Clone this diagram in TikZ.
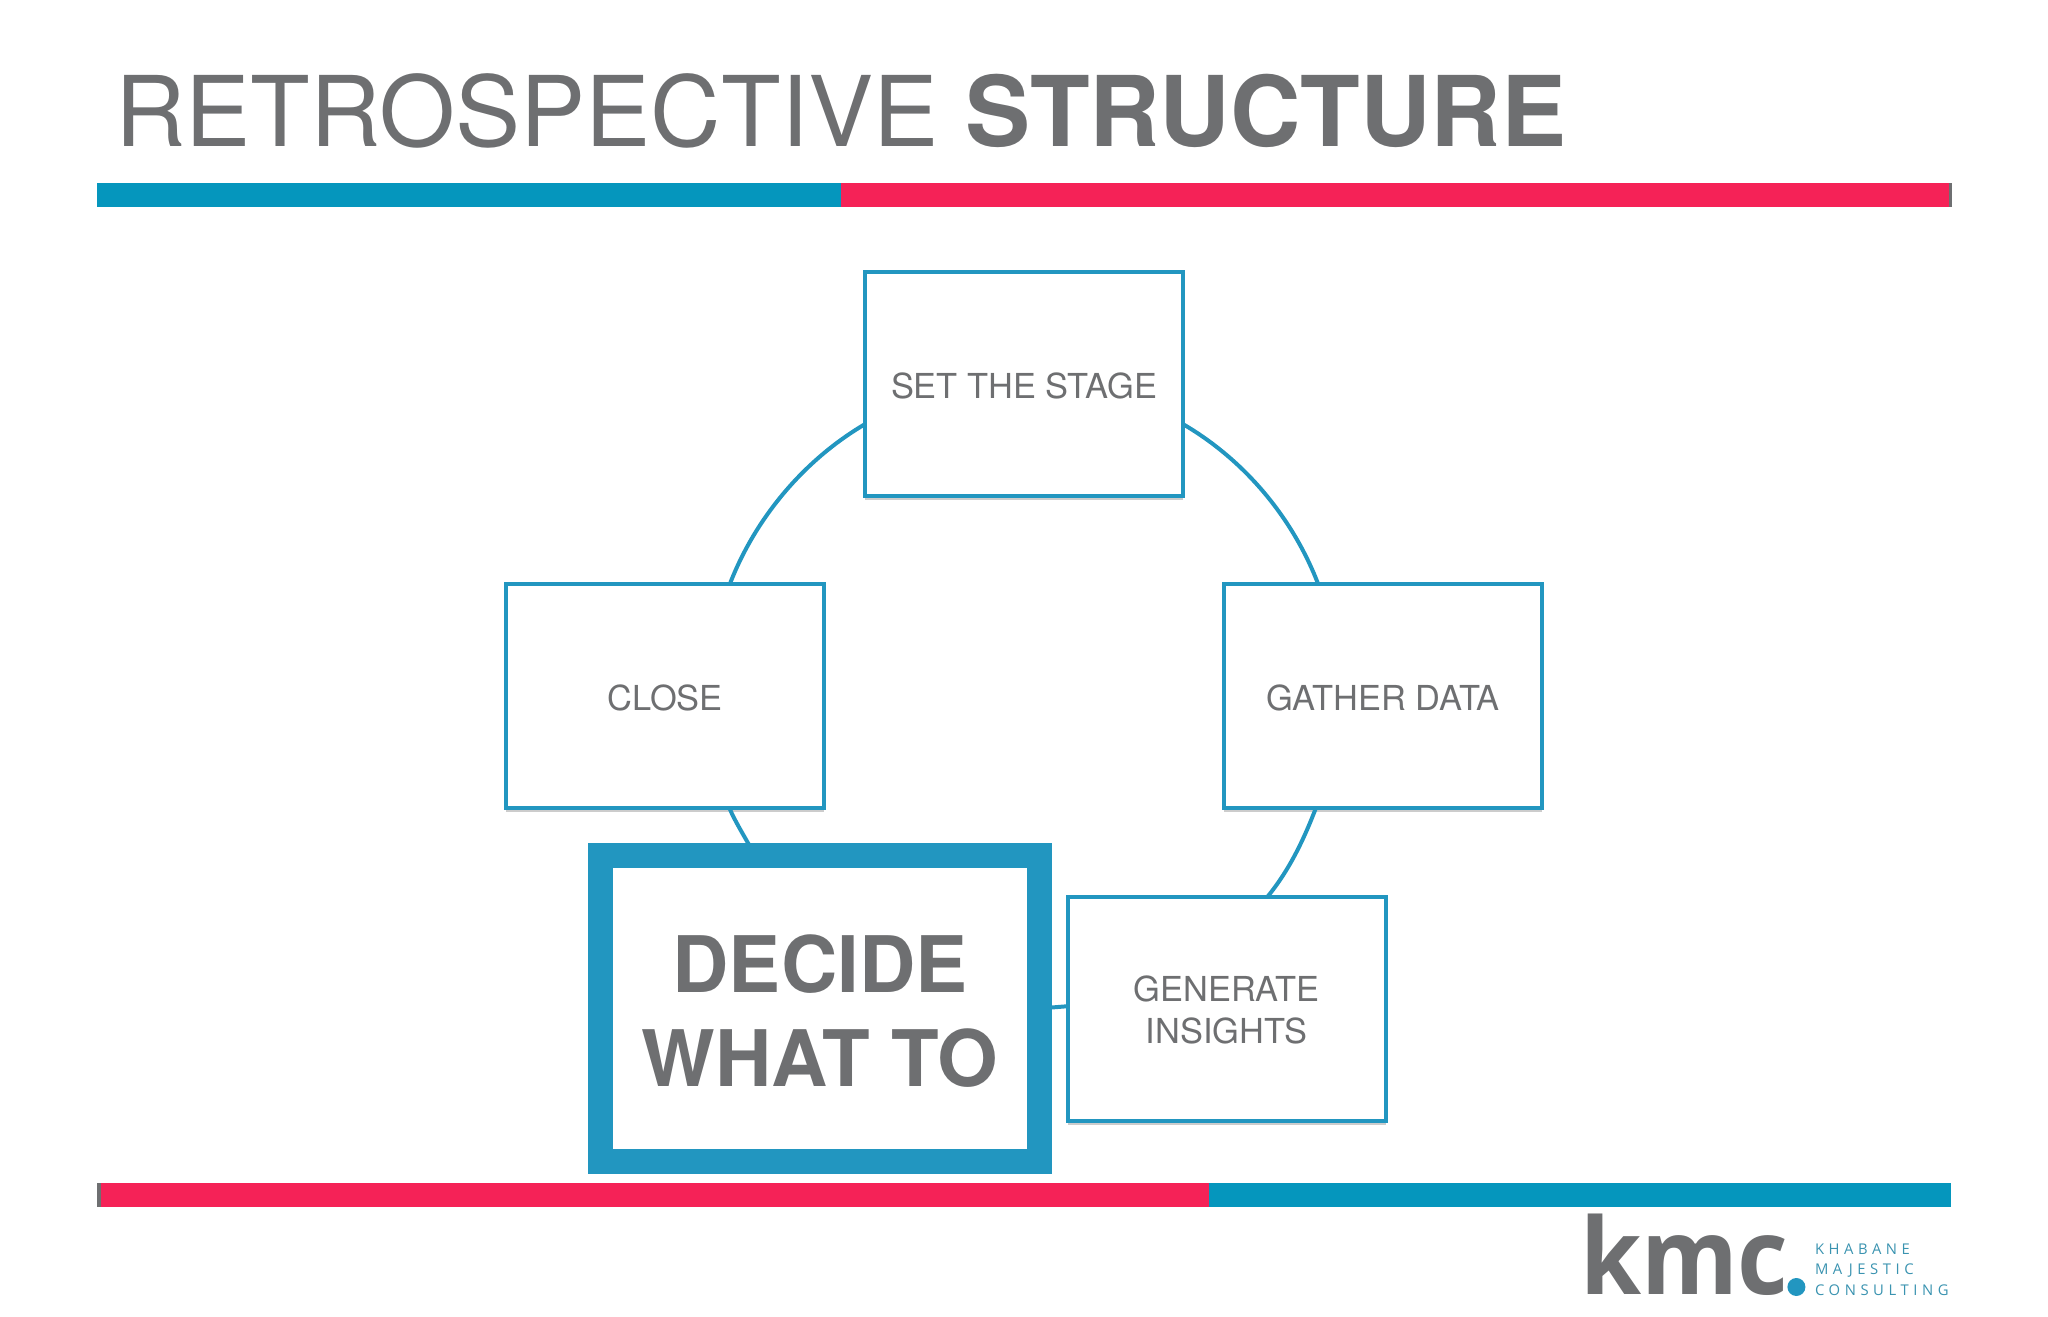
\documentclass[tikz,border=0pt]{standalone}
\usepackage{fontspec}
\usetikzlibrary{shadows}
\setmainfont{TeX Gyre Heros}
\newfontfamily\logofont{Open Sans}
\newfontfamily\logosmall{Open Sans}[LetterSpace=31]
\definecolor{barblue}{HTML}{0596BD}
\definecolor{barred}{HTML}{F52257}
\definecolor{boxblue}{HTML}{2296C0}
\definecolor{inkgrey}{HTML}{6E6F71}
\definecolor{logoteal}{HTML}{3A93B0}
\newcommand{\lowertext}[1]{\rule{0pt}{#1}}
\tikzset{
  stepbox/.style={draw=boxblue,line width=2pt,fill=white,minimum width=159pt,minimum height=112pt,
    inner sep=0pt,outer sep=0pt,align=center,text=inkgrey,
    font=\fontsize{17.2}{20.8}\selectfont,
    general shadow={fill=black,opacity=.2,shadow xshift=0pt,shadow yshift=-2pt}},
  bigbox/.style={draw=boxblue,line width=12.5pt,fill=white,minimum width=219.5pt,minimum height=153pt,
    inner sep=0pt,outer sep=0pt,align=center,text=inkgrey,
    font=\fontsize{39}{46.8}\selectfont\bfseries},
  conn/.style={draw=boxblue,line width=2pt},
  logosm/.style={anchor=base west,inner sep=0pt,outer sep=0pt,text=logoteal,
    font=\logosmall\fontsize{7.4}{8}\selectfont}
}
\begin{document}
\begin{tikzpicture}[x=0.5pt,y=0.5pt]
\useasboundingbox (0,0) rectangle (2048,1316);
% title
\node[anchor=base west,inner sep=0pt,text=inkgrey,font=\fontsize{48.8}{50}\selectfont] (title) at (115,1169) {RETROSPECTIVE \textbf{STRUCTURE}};
% bars
\fill[barblue] (97,1133) rectangle (841,1109);
\fill[barred] (841,1133) rectangle (1949,1109);
\fill[inkgrey] (1949,1133) rectangle (1952,1109);
\fill[inkgrey] (97,133) rectangle (101,109);
\fill[barred] (101,133) rectangle (1209,109);
\fill[barblue] (1209,133) rectangle (1951,109);
% nodes
\node[stepbox] (stage) at (1024,931.5) {\lowertext{14.8pt}SET THE STAGE};
\node[stepbox] (gather) at (1383,619.5) {\lowertext{14.8pt}GATHER DATA};
\node[stepbox] (insights) at (1226.5,307) {\lowertext{13.8pt}GENERATE\\INSIGHTS};
\node[stepbox] (close) at (665,619.5) {\lowertext{14.8pt}CLOSE};
\node[bigbox] (decide) at (820,307.5) {\lowertext{31.2pt}DECIDE\\WHAT TO};
% connectors (arcs of one circle)
\draw[conn] (stage.-14) to[out=-30.3,in=111,distance=35.8pt] (gather.120.8);
\draw[conn] (gather.239.2) to[out=-111,in=50.5,distance=17pt] (insights.70.7);
\draw[conn] (insights.179.2) to (decide.-0.65);
\draw[conn] (decide.113.9) to[out=118,in=291,distance=6.4pt] (close.-60);
\draw[conn] (close.60) to[out=69,in=210.5,distance=35.5pt] (stage.194);
% logo
\node[anchor=base west,inner sep=0pt,outer sep=0pt,text=inkgrey,font=\logofont\bfseries\fontsize{53}{56}\selectfont,xscale=.93] (kmc) at (1580,22) {kmc};
\fill[boxblue] (1796.4,29) circle (9);
\node[logosm] (l1) at (1815,62) {KHABANE};
\node[logosm] (l2) at (1815,41.7) {MAJESTIC};
\node[logosm] (l3) at (1815,21) {CONSULTING};
\end{tikzpicture}
\end{document}
